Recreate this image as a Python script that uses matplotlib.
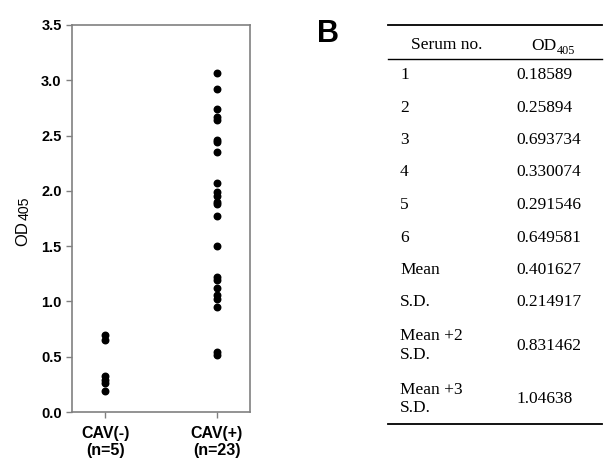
import matplotlib
matplotlib.use("Agg")
import matplotlib.pyplot as plt
from matplotlib.lines import Line2D

# panel A data
groups = ["CAV(-)\n(n=5)", "CAV(+)\n(n=23)"]
cav_neg = [0.18589, 0.25894, 0.693734, 0.330074, 0.291546, 0.649581]
cav_pos = [3.07, 2.92, 2.74, 2.67, 2.64, 2.46, 2.44, 2.35, 2.07, 1.99, 1.95,
           1.90, 1.88, 1.77, 1.50, 1.22, 1.19, 1.12, 1.06, 1.02, 0.95, 0.545, 0.52]
yticks = [0.0, 0.5, 1.0, 1.5, 2.0, 2.5, 3.0, 3.5]

# panel B table
row_labels = ["1", "2", "3", "4", "5", "6", "Mean", "S.D.",
              "Mean +2\nS.D.", "Mean +3\nS.D."]
row_values = ["0.18589", "0.25894", "0.693734", "0.330074", "0.291546",
              "0.649581", "0.401627", "0.214917", "0.831462", "1.04638"]

W, H = 612, 459
fig = plt.figure(figsize=(W / 100, H / 100), dpi=100)
renderer = fig.canvas.get_renderer()

def px(x, y):
    return x / W, 1 - y / H

def sub_text(x, y, main, sub, size, family, rotation=0, scale=0.7, drop=0.3):
    # main text plus a smaller, lowered subscript, drawn as two plain texts
    t = fig.text(*px(x, y), main, fontsize=size, family=family,
                 rotation=rotation, va="baseline", ha="left",
                 rotation_mode="anchor")
    bb = t.get_window_extent(renderer)
    d = size * drop
    if rotation == 90:
        sx, sy = x + d, y - bb.height - 1
    else:
        sx, sy = x + bb.width + 1, y + d
    fig.text(*px(sx, sy), sub, fontsize=size * scale, family=family,
             rotation=rotation, va="baseline", ha="left",
             rotation_mode="anchor")

ax = fig.add_axes([72 / W, 1 - 412 / H, (250 - 72) / W, (412 - 25) / H])
ax.scatter([1] * len(cav_neg), cav_neg, s=22, color="black", zorder=3)
ax.scatter([2] * len(cav_pos), cav_pos, s=22, color="black", zorder=3)
ax.set_xlim(0.7, 2.3)
ax.set_ylim(0, 3.5)
ax.set_yticks(yticks)
ax.set_yticklabels([f"{v:.1f}" for v in yticks], fontweight="bold",
                   fontsize=10.5, family="Liberation Sans")
ax.set_xticks([1, 2])
ax.set_xticklabels(groups, fontweight="bold", fontsize=11.5,
                   family="Liberation Sans", linespacing=1.2)
ax.tick_params(direction="out", length=4, color="#808080", width=1)
ax.tick_params(axis="x", pad=6)
for s in ax.spines.values():
    s.set_color("#808080")
    s.set_linewidth(1.2)

# y label OD405, rotated
sub_text(27, 246, "OD", "405", 12, "Liberation Sans", rotation=90,
         scale=0.85, drop=0.12)

# panel B
fig.text(*px(317, 34), "B", fontsize=22, fontweight="bold",
         family="Liberation Sans", va="center", ha="left")

serif = "Liberation Serif"
fs = 12.5
for y, lw in [(25, 1.3), (59, 1.0), (424, 1.3)]:
    x0, yy = px(388, y)
    x1, _ = px(602, y)
    fig.add_artist(Line2D([x0, x1], [yy, yy], color="black", lw=lw))

fig.text(*px(411, 45), "Serum no.", fontsize=fs, family=serif, va="center")
sub_text(531, 50, "OD", "405", fs, serif)

y = 75
prev_lines = 1
for i, (lab, val) in enumerate(zip(row_labels, row_values)):
    nlines = lab.count("\n") + 1
    if i > 0:
        y += 32.5 + 10.5 * (nlines - 1) + 10.5 * (prev_lines - 1)
    fig.text(*px(400, y), lab, fontsize=fs, family=serif, va="center",
             linespacing=1.2)
    fig.text(*px(516, y), val, fontsize=fs, family=serif, va="center")
    prev_lines = nlines

fig.savefig("out.png", dpi=100)
